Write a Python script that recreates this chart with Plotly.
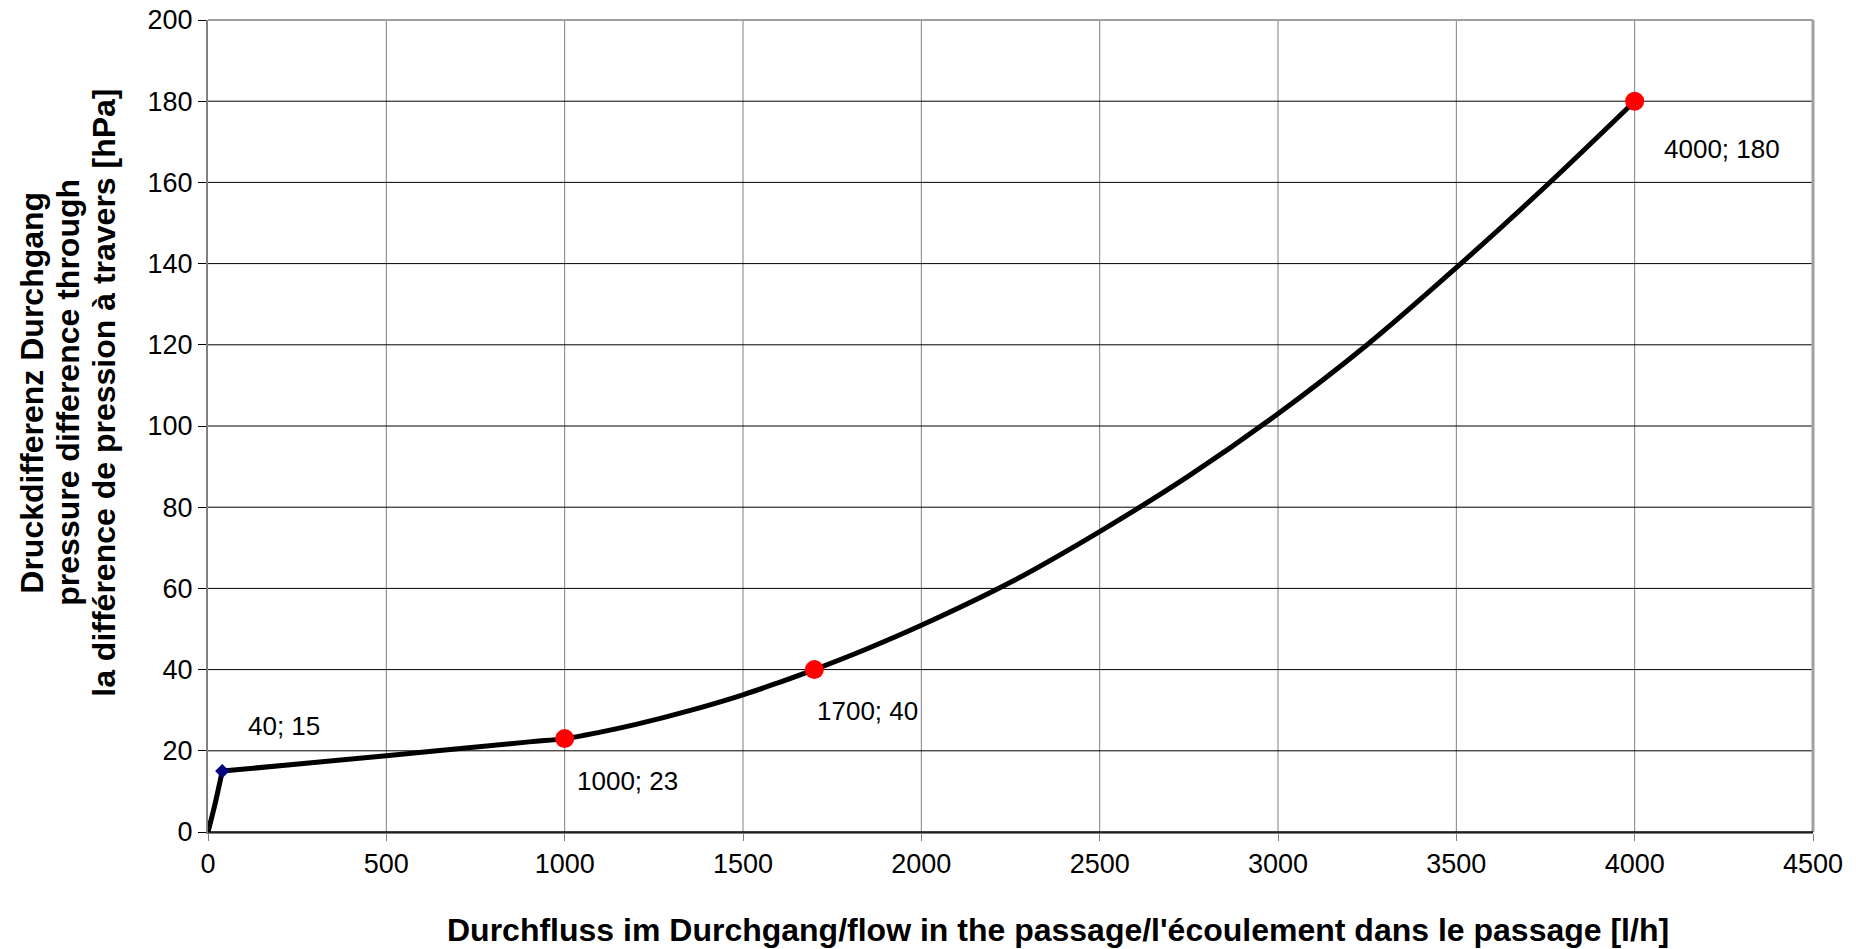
import plotly.graph_objects as go

# Measured data points (flow l/h, pressure difference hPa)
flow = [40, 1000, 1700, 4000]
dp = [15, 23, 40, 180]
labels = ["40; 15", "1000; 23", "1700; 40", "4000; 180"]

# Curve
curve_start_flow = [0, 20, 40]
curve_start_dp = [0, 7, 15]
curve_flow = [40, 500, 900, 1000, 1100, 1200, 1350, 1500, 1600, 1700, 1850, 2000, 2250,
              2500, 2750, 3000, 3250, 3500, 3750, 4000]
curve_dp = [15, 18.8, 22.2, 23, 24.6, 26.5, 29.9, 33.8, 36.8, 40, 45.2, 50.9, 61.5,
            74, 87.7, 103, 120, 139, 159, 180]

x_ticks = [0, 500, 1000, 1500, 2000, 2500, 3000, 3500, 4000, 4500]
y_ticks = [0, 20, 40, 60, 80, 100, 120, 140, 160, 180, 200]

x_title = "Durchfluss im Durchgang/flow in the passage/l'écoulement dans le passage [l/h]"
y_title_lines = ["Druckdifferenz Durchgang",
                 "pressure difference through",
                 "la différence de pression à travers [hPa]"]

FONT = "Liberation Sans, Arial, sans-serif"

fig = go.Figure()

# vertical grid lines (grey)
for xv in x_ticks[1:-1]:
    fig.add_shape(type="line", xref="x", yref="paper", x0=xv, x1=xv, y0=0, y1=1,
                  line=dict(color="#808080", width=1), layer="below")
# horizontal grid lines (dark)
for yv in y_ticks[1:-1]:
    fig.add_shape(type="line", xref="paper", yref="y", x0=0, x1=1, y0=yv, y1=yv,
                  line=dict(color="#000000", width=1), layer="below")

fig.add_trace(go.Scatter(x=curve_start_flow, y=curve_start_dp, mode="lines",
                         line=dict(color="black", width=5, shape="spline", smoothing=0.6),
                         hoverinfo="skip", showlegend=False))
fig.add_trace(go.Scatter(x=curve_flow, y=curve_dp, mode="lines",
                         line=dict(color="black", width=5, shape="spline", smoothing=1),
                         hoverinfo="skip", showlegend=False))
fig.add_trace(go.Scatter(x=flow[1:], y=dp[1:], mode="markers",
                         marker=dict(color="#ff0000", size=19, line=dict(width=0)),
                         showlegend=False))
fig.add_trace(go.Scatter(x=[flow[0]], y=[dp[0]], mode="markers",
                         marker=dict(color="#000080", size=11, symbol="diamond", line=dict(width=0)),
                         showlegend=False))

# data labels
label_offsets = [(172, 11.1), (176, -10.4), (150, -10.2), (245, -11.8)]
for i, (dx, dy) in enumerate(label_offsets):
    fig.add_annotation(x=flow[i] + dx, y=dp[i] + dy, text=labels[i], showarrow=False,
                       xanchor="center", yanchor="middle",
                       font=dict(family=FONT, size=26, color="black"))

# axis titles
fig.add_annotation(xref="paper", yref="paper", x=0.5296, y=-0.1207, yanchor="middle",
                   text="<b>" + x_title + "</b>",
                   showarrow=False, font=dict(family=FONT, size=32, color="black"))
y_title_x = [(32 - 208) / 1605, (68 - 208) / 1605, (104 - 208) / 1605]
for line, xp in zip(y_title_lines, y_title_x):
    fig.add_annotation(xref="paper", yref="paper", x=xp, y=0.541,
                       xanchor="center", yanchor="middle",
                       text="<b>" + line + "</b>", textangle=-90, showarrow=False,
                       font=dict(family=FONT, size=32, color="black"))

# page body has an 8px margin: size the figure so the plot area lands where the reference has it
fig.update_layout(
    width=1848, height=941,
    margin=dict(l=200, r=43, t=12, b=117),
    plot_bgcolor="white", paper_bgcolor="white",
    font=dict(family=FONT, size=27, color="black"),
    xaxis=dict(range=[0, 4500], tickvals=x_ticks, showgrid=False, zeroline=False,
               showline=True, linecolor="#808080", linewidth=2, mirror=False, automargin=False,
               ticks="outside", ticklen=7, tickcolor="#808080", tickfont=dict(size=27),
               ticklabeloverflow="allow"),
    yaxis=dict(range=[0, 200], tickvals=y_ticks, showgrid=False, zeroline=False,
               showline=True, linecolor="#808080", linewidth=2, automargin=False,
               ticks="outside", ticklen=8, tickcolor="#000000", tickfont=dict(size=27),
               ticklabeloverflow="allow"),
)
# top/right border
fig.add_shape(type="line", xref="paper", yref="paper", x0=0, x1=1, y0=1, y1=1,
              line=dict(color="#a0a0a0", width=2))
fig.add_shape(type="line", xref="paper", yref="paper", x0=1, x1=1, y0=0, y1=1,
              line=dict(color="#a0a0a0", width=3))
# bottom axis line darker
fig.add_shape(type="line", xref="paper", yref="paper", x0=0, x1=1, y0=0, y1=0,
              line=dict(color="#000000", width=1.5))

fig.write_html("out.html")
